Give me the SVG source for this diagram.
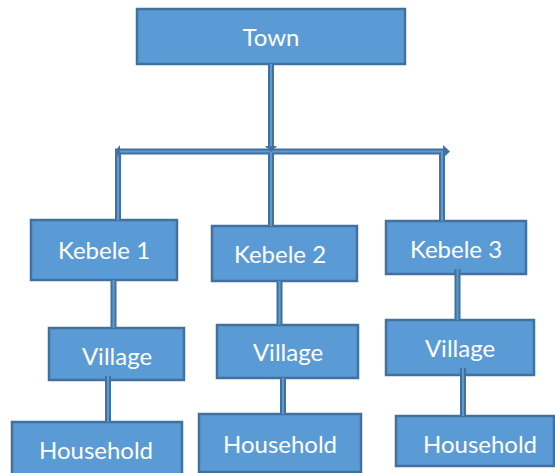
<svg xmlns="http://www.w3.org/2000/svg" width="555" height="473" viewBox="0 0 555 473">
<style>
.box{fill:#5B9BD5;stroke:#41719C;stroke-width:2.5}
.lbl{fill:#FFFFFF;font-family:Lato,"Open Sans","Liberation Sans",sans-serif;font-size:24px;text-anchor:middle}
.co{fill:none;stroke:#41719C;stroke-width:6}
.ci{fill:none;stroke:#5B9BD5;stroke-width:2}
.ah{fill:#41719C;stroke:none}
</style>
<rect width="555" height="473" fill="#FFFFFF"/>
<g id="town"><rect class="box" x="137" y="9" width="268" height="55"/><text class="lbl" x="271" y="46">Town</text></g>
<g id="kebele1"><rect class="box" x="31" y="220" width="146" height="60"/><text class="lbl" x="104" y="259">Kebele 1</text></g>
<g id="kebele2"><rect class="box" x="212" y="226" width="145" height="55"/><text class="lbl" x="280" y="263">Kebele 2</text></g>
<g id="kebele3"><rect class="box" x="386" y="221" width="140" height="53"/><text class="lbl" x="456" y="258">Kebele 3</text></g>
<g id="village1"><rect class="box" x="49" y="328" width="135" height="52"/><text class="lbl" x="117" y="365">Village</text></g>
<g id="village2"><rect class="box" x="217" y="325" width="141" height="53"/><text class="lbl" x="288" y="361">Village</text></g>
<g id="village3"><rect class="box" x="386" y="320" width="148" height="55"/><text class="lbl" x="460" y="357">Village</text></g>
<g id="household1"><rect class="box" x="12" y="422" width="170" height="56"/><text class="lbl" x="96" y="459">Household</text></g>
<g id="household2"><rect class="box" x="199" y="414" width="162" height="58"/><text class="lbl" x="280" y="453">Household</text></g>
<g id="household3"><rect class="box" x="396" y="416" width="158" height="50"/><text class="lbl" x="480" y="453">Household</text></g>
<g id="connectors">
<path class="co" d="M271,64 V226 M118,220 V151.5 H445 M442,151.5 V221 M113.5,280 V328 M279.5,281 V325 M457.5,269 V320 M108,376 V422 M283,378 V414 M463,368 V416"/>
<path class="ci" d="M271,64 V226 M118,220 V151.5 H445 M442,151.5 V221 M113.5,280 V328 M279.5,281 V325 M457.5,269 V320 M108,376 V422 M283,378 V414 M463,368 V416"/>
<polygon class="ah" points="120,145 120,158 115,151.5"/>
<polygon class="ah" points="443,145 443,158 450,151.5"/>
<polygon class="ah" points="265,146 277,146 271,152"/>
</g>
</svg>
